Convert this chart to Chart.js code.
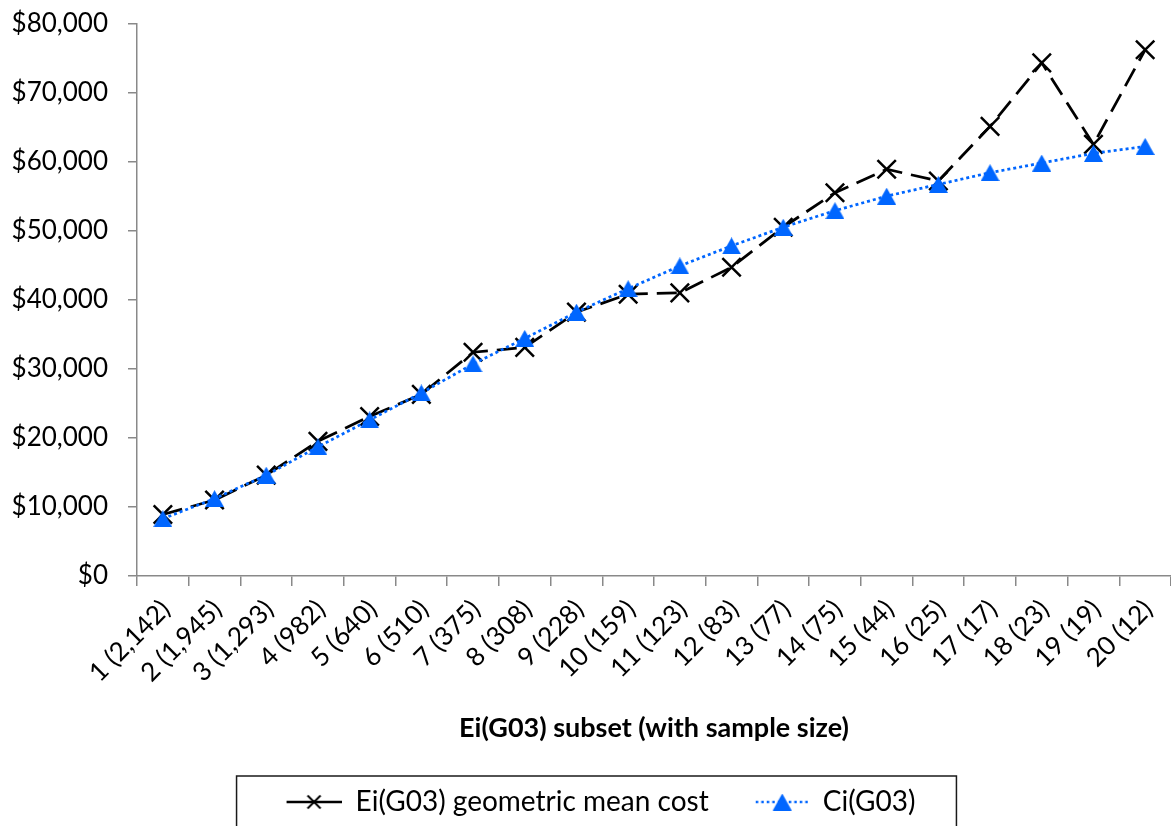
<!DOCTYPE html>
<html>
<head>
<meta charset="utf-8">
<script src="https://cdn.jsdelivr.net/npm/chart.js@4.4.1/dist/chart.umd.min.js"></script>
<style>
  html, body { margin: 0; padding: 0; background: #fff; }
  #wrap { width: 1171px; height: 826px; position: relative; }
</style>
</head>
<body>
<div id="wrap"><canvas id="chart" width="1171" height="826"></canvas></div>
<script>
// Subset labels (subset number with sample size)
const categories = ['1 (2,142)', '2 (1,945)', '3 (1,293)', '4 (982)', '5 (640)', '6 (510)',
  '7 (375)', '8 (308)', '9 (228)', '10 (159)', '11 (123)', '12 (83)', '13 (77)', '14 (75)',
  '15 (44)', '16 (25)', '17 (17)', '18 (23)', '19 (19)', '20 (12)'];

// Ei(G03) geometric mean cost per subset
const eiCost = [8900, 11000, 14600, 19500, 23100, 26300, 32400, 33100, 38200, 40800,
  41000, 44700, 50500, 55500, 58900, 57200, 65100, 74300, 62500, 76200];

// Ci(G03) per subset
const ciCost = [8300, 11200, 14600, 18700, 22600, 26500, 30700, 34400, 38200, 41600,
  44900, 47800, 50500, 52900, 55000, 56700, 58400, 59800, 61200, 62200];

// Y axis range and step
const yMin = 0, yMax = 80000, yStep = 10000;

const BLUE = '#0066ff';
const AXIS_GREY = '#898989';
const FONT = 'Lato';
const LEGEND_SIZE = 28;
const RIGHT_BLEED = -4;   // plot area runs slightly past the right edge

// Filled triangle marker, centred on its bounding box
function makeTriangle(w, h) {
  const c = document.createElement('canvas');
  c.width = w; c.height = h;
  const g = c.getContext('2d');
  g.fillStyle = BLUE;
  g.beginPath();
  g.moveTo(w / 2, 0);
  g.lineTo(w, h);
  g.lineTo(0, h);
  g.closePath();
  g.fill();
  return c;
}
const triMarker = makeTriangle(19, 17);

// Legend swatches: short line segment with the series marker
const SWATCH_W = 90, SWATCH_H = 30;
const EI_SWATCH_START = 35, CI_SWATCH_START = 37;
function makeSwatch(kind) {
  const c = document.createElement('canvas');
  c.width = SWATCH_W; c.height = SWATCH_H;
  const g = c.getContext('2d');
  const cy = SWATCH_H / 2;
  if (kind === 'ei') {
    const x0 = EI_SWATCH_START, x1 = 90, cx = (x0 + x1) / 2;
    g.strokeStyle = '#000';
    g.lineWidth = 2.5;
    g.beginPath(); g.moveTo(x0, cy); g.lineTo(x1, cy); g.stroke();
    const r = 6.5;
    g.lineWidth = 2;
    g.beginPath();
    g.moveTo(cx - r, cy - r); g.lineTo(cx + r, cy + r);
    g.moveTo(cx + r, cy - r); g.lineTo(cx - r, cy + r);
    g.stroke();
  } else {
    const x0 = CI_SWATCH_START, x1 = 90, cx = (x0 + x1) / 2;
    g.strokeStyle = BLUE;
    g.lineWidth = 2.5;
    g.setLineDash([2.5, 3]);
    g.beginPath(); g.moveTo(x0, cy); g.lineTo(x1, cy); g.stroke();
    g.setLineDash([]);
    g.drawImage(triMarker, cx - 9.5, cy - 8.5);
  }
  return c;
}
const eiSwatch = makeSwatch('ei');
const ciSwatch = makeSwatch('ci');

// Legend row placement and frame around it
const legendFrame = {
  id: 'legendFrame',
  afterLayout(chart) {
    const lg = chart.legend;
    if (!lg) return;
    lg.left -= 4;
    lg.right -= 4;
  },
  afterDraw(chart) {
    const lg = chart.legend;
    if (!lg || !lg.legendHitBoxes || lg.legendHitBoxes.length < 2) return;
    const hb = lg.legendHitBoxes;
    const ctx = chart.ctx;
    ctx.save();
    ctx.font = LEGEND_SIZE + 'px ' + FONT;
    const textW = ctx.measureText('Ci(G03)').width;
    const left = hb[0].left + EI_SWATCH_START - 50;
    const right = hb[1].left + SWATCH_W + LEGEND_SIZE / 2 + textW + 41;
    const top = lg.top - 2;
    ctx.strokeStyle = '#1a1a1a';
    ctx.lineWidth = 1.5;
    ctx.beginPath();
    ctx.moveTo(left, chart.height + 5);
    ctx.lineTo(left, top);
    ctx.lineTo(right, top);
    ctx.lineTo(right, chart.height + 5);
    ctx.stroke();
    ctx.restore();
  }
};

Chart.defaults.font.family = FONT;
Chart.defaults.color = '#000';

new Chart(document.getElementById('chart'), {
  type: 'line',
  data: {
    labels: categories,
    datasets: [
      {
        label: 'Ei(G03) geometric mean cost',
        data: eiCost,
        order: 2,
        borderColor: '#000',
        borderWidth: 2.75,
        borderDash: [20, 9],
        tension: 0,
        fill: false,
        clip: false,
        pointStyle: 'crossRot',
        pointRadius: 13,
        pointHoverRadius: 13,
        pointBorderWidth: 2.5,
        pointBorderColor: '#000',
        pointBackgroundColor: '#000'
      },
      {
        label: 'Ci(G03)',
        data: ciCost,
        order: 1,
        borderColor: BLUE,
        borderWidth: 2.75,
        borderDash: [3, 3],
        tension: 0,
        fill: false,
        clip: false,
        pointStyle: triMarker,
        pointRadius: 10,
        pointHoverRadius: 10,
        pointBackgroundColor: BLUE,
        pointBorderColor: BLUE
      }
    ]
  },
  options: {
    responsive: false,
    animation: false,
    events: [],
    layout: { autoPadding: false, padding: { left: 0, right: RIGHT_BLEED, top: 23.5, bottom: 0 } },
    plugins: {
      tooltip: { enabled: false },
      legend: {
        position: 'bottom',
        labels: {
          usePointStyle: true,
          pointStyleWidth: SWATCH_W,
          padding: 10,
          color: '#000',
          font: { family: FONT, size: LEGEND_SIZE },
          generateLabels() {
            return [
              { text: 'Ei(G03) geometric mean cost', pointStyle: eiSwatch, fontColor: '#000',
                datasetIndex: 0, hidden: false, lineWidth: 0, strokeStyle: 'transparent', fillStyle: 'transparent' },
              { text: 'Ci(G03)', pointStyle: ciSwatch, fontColor: '#000',
                datasetIndex: 1, hidden: false, lineWidth: 0, strokeStyle: 'transparent', fillStyle: 'transparent' }
            ];
          }
        }
      }
    },
    scales: {
      x: {
        type: 'category',
        offset: true,
        afterFit(scale) {
          scale.height = 202;
          scale.paddingLeft = 0;
          scale.paddingRight = RIGHT_BLEED;
        },
        border: { display: true, color: AXIS_GREY, width: 1.5 },
        grid: {
          offset: true,
          drawOnChartArea: false,
          drawTicks: true,
          tickLength: 10,
          color: AXIS_GREY,
          lineWidth: 1.5
        },
        ticks: {
          autoSkip: false,
          minRotation: 45,
          maxRotation: 45,
          padding: 8,
          labelOffset: 3,
          color: '#000',
          font: { family: FONT, size: 26 }
        },
        title: {
          display: true,
          text: 'Ei(G03) subset (with sample size)',
          color: '#000',
          font: { family: FONT, size: 27, weight: 'bold' },
          padding: { top: 0, bottom: 33.8 }
        }
      },
      y: {
        min: yMin,
        max: yMax,
        afterFit(scale) {
          scale.width = 137;
          scale.paddingTop = 0;
          scale.paddingBottom = 0;
          scale.paddingRight = RIGHT_BLEED;
        },
        border: { display: true, color: AXIS_GREY, width: 1.5 },
        grid: {
          drawOnChartArea: false,
          drawTicks: true,
          tickLength: 9,
          color: AXIS_GREY,
          lineWidth: 1.5
        },
        ticks: {
          stepSize: yStep,
          padding: 20,
          color: '#000',
          font: { family: FONT, size: 26 },
          callback: (v) => '$' + Number(v).toLocaleString('en-US')
        }
      }
    }
  },
  plugins: [legendFrame]
});
</script>
</body>
</html>
